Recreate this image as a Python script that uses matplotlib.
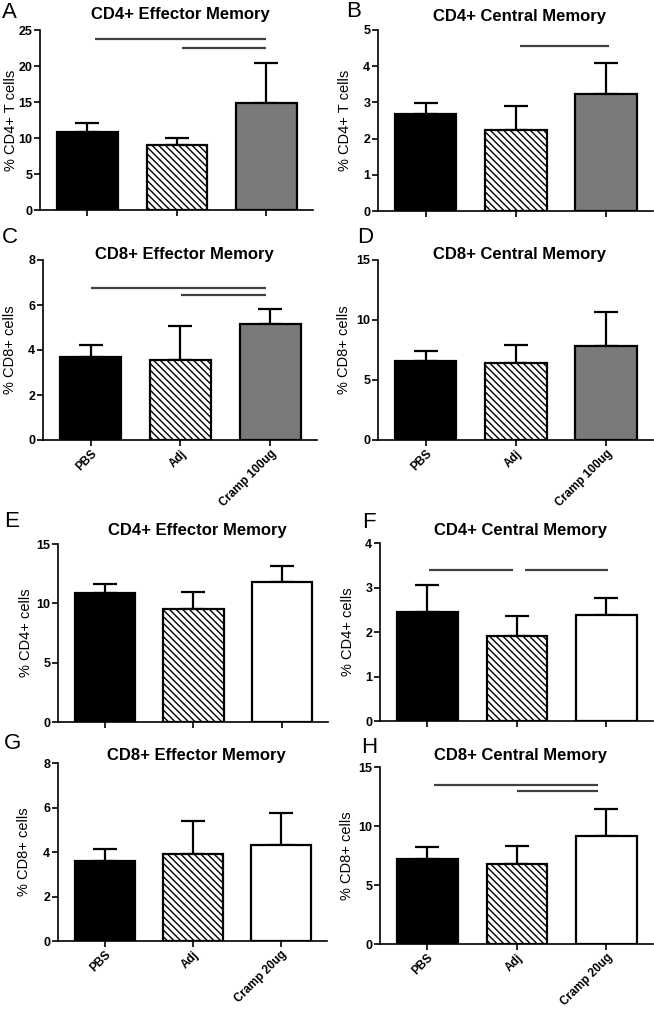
import matplotlib
matplotlib.use("Agg")
import matplotlib.pyplot as plt

plt.rcParams['font.family'] = ['Liberation Sans', 'DejaVu Sans']
plt.rcParams['hatch.linewidth'] = 1.0

groups_100 = ["PBS", "Adj", "Cramp 100ug"]
groups_20 = ["PBS", "Adj", "Cramp 20ug"]

# panel values (mean, upper error size)
A_mean = [10.9, 9.05, 14.8];  A_err = [1.15, 0.9, 5.65]
B_mean = [2.69, 2.25, 3.22];  B_err = [0.29, 0.65, 0.88]
C_mean = [3.68, 3.54, 5.17];  C_err = [0.56, 1.54, 0.66]
D_mean = [6.61, 6.42, 7.86];  D_err = [0.83, 1.52, 2.78]
E_mean = [10.85, 9.52, 11.83]; E_err = [0.75, 1.47, 1.32]
F_mean = [2.44, 1.90, 2.39];  F_err = [0.62, 0.47, 0.37]
G_mean = [3.59, 3.89, 4.30];  G_err = [0.53, 1.52, 1.47]
H_mean = [7.24, 6.82, 9.13];  H_err = [0.99, 1.46, 2.33]

# significance lines: (x_start, x_end, y)
A_sig = [(0.09, 2.0, 23.7), (1.06, 2.0, 22.55)]
B_sig = [(1.05, 2.03, 4.56)]
C_sig = [(0.0, 1.95, 6.76), (1.01, 1.95, 6.44)]
D_sig = []
E_sig = []
F_sig = [(0.02, 0.96, 3.4), (1.09, 2.02, 3.4)]
G_sig = []
H_sig = [(0.07, 1.9, 13.5), (1.0, 1.9, 12.94)]

W, H = 654, 1013
fig = plt.figure(figsize=(W/100, H/100), dpi=100)

panels = [
    # letter, title, ylabel, means, errs, sig, ymax, yticks, third colour, labels,
    # rect(l,t,r,b), letter pos (x, baseline), title y, ylabel x
    ("A", "CD4+ Effector Memory", "% CD4+ T cells", A_mean, A_err, A_sig, 25, [0,5,10,15,20,25], "#7a7a7a", None, (40, 30, 313, 210), (2, 18), 15, 11),
    ("B", "CD4+ Central Memory", "% CD4+ T cells", B_mean, B_err, B_sig, 5, [0,1,2,3,4,5], "#7a7a7a", None, (378, 30, 653, 211), (346, 17), 17, 345),
    ("C", "CD8+ Effector Memory", "% CD8+ cells", C_mean, C_err, C_sig, 8, [0,2,4,6,8], "#7a7a7a", groups_100, (43, 260, 317, 440), (2, 243), 255, 10),
    ("D", "CD8+ Central Memory", "% CD8+ cells", D_mean, D_err, D_sig, 15, [0,5,10,15], "#7a7a7a", groups_100, (378, 260, 653, 440), (357, 243), 255, 344),
    ("E", "CD4+ Effector Memory", "% CD4+ cells", E_mean, E_err, E_sig, 15, [0,5,10,15], "white", None, (58, 544, 328, 722), (4, 527), 530, 26),
    ("F", "CD4+ Central Memory", "% CD4+ cells", F_mean, F_err, F_sig, 4, [0,1,2,3,4], "white", None, (380, 543, 653, 721), (362, 528), 530, 348),
    ("G", "CD8+ Effector Memory", "% CD8+ cells", G_mean, G_err, G_sig, 8, [0,2,4,6,8], "white", groups_20, (58, 763, 327, 941), (4, 749), 755, 24),
    ("H", "CD8+ Central Memory", "% CD8+ cells", H_mean, H_err, H_sig, 15, [0,5,10,15], "white", groups_20, (380, 767, 653, 944), (361, 753), 755, 347),
]

xs = [0, 1, 2]
for letter, title, ylabel, means, errs, sig, ymax, yticks, c3, labels, rect, lpos, ty, ylx in panels:
    l, t, r, b = rect
    ax = fig.add_axes([l/W, 1 - b/H, (r-l)/W, (b-t)/H])
    colors = ["black", "white", c3]
    hatches = [None, "\\\\\\\\\\", None]
    for x, m, e, c, h in zip(xs, means, errs, colors, hatches):
        ax.bar(x, m, width=0.68, color=c, edgecolor="black", linewidth=1.6,
               hatch=h, zorder=2)
        ax.errorbar(x, m, yerr=[[0], [e]], fmt="none", ecolor="black",
                    elinewidth=1.6, capsize=8.5, capthick=1.6, zorder=1)
    for x0, x1, y in sig:
        ax.plot([x0, x1], [y, y], color="#404040", lw=1.6, clip_on=False,
                solid_capstyle="butt")
    ax.set_xlim(-0.53, 2.52)
    ax.set_ylim(0, ymax)
    ax.set_yticks(yticks)
    ax.set_xticks(xs)
    ax.spines["top"].set_visible(False)
    ax.spines["right"].set_visible(False)
    ax.spines["left"].set_linewidth(1.2)
    ax.spines["bottom"].set_linewidth(1.2)
    ax.tick_params(axis="both", width=1.2, length=4, labelsize=9, pad=1.5)
    for lab in ax.get_yticklabels():
        lab.set_fontweight("bold")
    if labels:
        ax.set_xticklabels(labels, rotation=45, ha="right",
                           rotation_mode="anchor", fontsize=8.5,
                           fontweight="bold")
    else:
        ax.set_xticklabels([])
    fig.text(ylx / W, 1 - ((t + b) / 2) / H, ylabel, fontsize=10.5,
             rotation=90, ha="center", va="center")
    fig.text(((l + r) / 2 + 4) / W, 1 - ty / H, title, fontsize=12,
             fontweight="bold", ha="center", va="center")
    fig.text(lpos[0]/W, 1 - lpos[1]/H, letter, fontsize=16, va="baseline",
             ha="left")

fig.savefig("out.png", dpi=100)
